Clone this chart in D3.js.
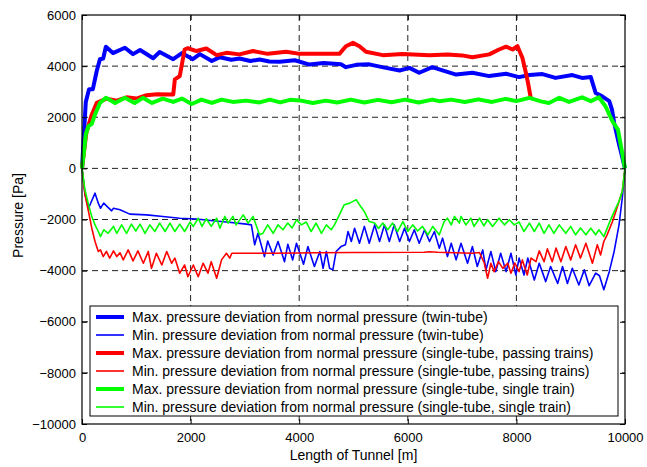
<!DOCTYPE html>
<html>
<head>
<meta charset="utf-8">
<script src="https://cdn.jsdelivr.net/npm/d3@7"></script>
<style>
  body { margin: 0; background: #fff; }
  text { font-family: Arial, "Liberation Sans", sans-serif; }
</style>
</head>
<body>
<div id="chart"></div>
<script>
// tick values
var xTicks = [0, 2000, 4000, 6000, 8000, 10000];
var yTicks = [-10000, -8000, -6000, -4000, -2000, 0, 2000, 4000, 6000];

// series: [length of tunnel (m), pressure (Pa)]
var maxTwin = [[0,0],[40,1500],[70,2600],[130,3100],[200,3100],[270,3800],[330,4270],[390,4300],[440,4760],[570,4510],[790,4720],[940,4470],[1070,4630],[1310,4310],[1430,4550],[1680,4270],[1840,4510],[2040,4270],[2170,4470],[2390,4200],[2540,4350],[2750,4250],[2900,4300],[3100,4200],[3270,4260],[3450,4180],[3640,4170],[3920,4230],[4190,4060],[4450,4120],[4770,4070],[4860,3960],[5050,4050],[5290,4070],[5550,3950],[5850,3830],[6030,3930],[6210,3740],[6450,3960],[6580,3870],[6890,3670],[7190,3740],[7500,3610],[7810,3700],[8050,3570],[8240,3650],[8480,3690],[8720,3540],[9030,3650],[9210,3540],[9370,3570],[9460,2950],[9580,2820],[9710,2630],[9760,2300],[9800,1780],[9890,940],[10000,0]];

var minTwin = [[0,0],[55,-1020],[120,-1560],[240,-970],[300,-1360],[340,-1560],[400,-1360],[545,-1660],[580,-1560],[700,-1620],[880,-1790],[1190,-1820],[1490,-1880],[1800,-1950],[2110,-1980],[2410,-2050],[2660,-2100],[3030,-2180],[3120,-2210],[3180,-2990],[3240,-2540],[3360,-3450],[3420,-2840],[3520,-3390],[3610,-2860],[3730,-3650],[3790,-2970],[3880,-3580],[3950,-2930],[4080,-3750],[4160,-3060],[4280,-3840],[4380,-3250],[4440,-3910],[4500,-3250],[4560,-3910],[4620,-3970],[4680,-3250],[4770,-3060],[4850,-2990],[4900,-2470],[4960,-2860],[5020,-2340],[5110,-2930],[5200,-2270],[5290,-2930],[5390,-2210],[5480,-2860],[5570,-2210],[5660,-2860],[5750,-2210],[5850,-2860],[5940,-2340],[6030,-2860],[6120,-2400],[6210,-2930],[6310,-2400],[6400,-2860],[6490,-2470],[6580,-3120],[6640,-2730],[6730,-3450],[6800,-2930],[6890,-3580],[6980,-2930],[7100,-3710],[7190,-3060],[7280,-3840],[7380,-3190],[7440,-3970],[7530,-3250],[7620,-4040],[7710,-3320],[7810,-4040],[7900,-3320],[7990,-4170],[8050,-3510],[8140,-4170],[8210,-3510],[8330,-4370],[8420,-3710],[8540,-4430],[8630,-3840],[8760,-4500],[8850,-3840],[8940,-4500],[9030,-3910],[9150,-4560],[9250,-3970],[9340,-4590],[9460,-4100],[9530,-4200],[9610,-4750],[9710,-4040],[9800,-3250],[9890,-2210],[9950,-1160],[10000,0]];

var maxPassing = [[0,0],[80,1400],[180,2100],[270,2560],[450,2730],[640,2650],[820,2780],[1000,2730],[1190,2860],[1380,2900],[1680,2890],[1710,3480],[1800,3610],[1890,4650],[1950,4700],[2110,4590],[2290,4690],[2480,4430],[2660,4520],[2900,4460],[3150,4590],[3420,4480],[3760,4560],[4010,4480],[4740,4480],[4860,4780],[4990,4910],[5110,4780],[5230,4560],[5540,4430],[5900,4470],[6400,4430],[6730,4450],[7000,4420],[7190,4350],[7500,4460],[7680,4650],[7810,4760],[7930,4650],[8020,4780],[8110,4330],[8180,3690],[8220,3280],[8270,2690]];

var minPassing = [[0,0],[55,-1030],[120,-1690],[180,-2340],[240,-2860],[300,-3250],[340,-3190],[390,-3450],[450,-3250],[510,-3510],[580,-3230],[640,-3450],[700,-3300],[760,-3580],[850,-3190],[940,-3620],[1030,-3230],[1130,-3710],[1220,-3250],[1280,-3910],[1370,-3320],[1470,-3780],[1560,-3250],[1650,-3710],[1710,-3510],[1800,-4100],[1890,-3780],[1950,-4240],[2050,-3780],[2140,-4240],[2230,-3710],[2320,-4100],[2380,-3650],[2480,-4300],[2570,-3580],[2660,-3320],[2720,-3510],[2760,-3320],[3460,-3320],[4000,-3310],[4300,-3300],[5000,-3290],[6300,-3280],[6400,-3260],[6550,-3280],[7190,-3320],[7320,-3290],[7410,-3710],[7470,-4300],[7530,-3710],[7590,-4040],[7670,-3650],[7750,-3910],[7840,-3710],[7900,-4100],[7970,-3700],[8050,-4040],[8110,-3580],[8200,-4170],[8270,-3510],[8360,-3650],[8420,-3230],[8510,-3650],[8570,-3150],[8660,-3650],[8730,-3120],[8820,-3650],[8910,-3060],[9000,-3580],[9090,-2990],[9180,-3510],[9280,-2930],[9400,-3710],[9490,-2990],[9550,-3390],[9610,-2860],[9670,-2600],[9770,-2080],[9860,-1490],[9950,-900],[10000,0]];

var maxSingle = [[0,0],[37,670],[70,1330],[120,1650],[180,1740],[240,2110],[330,2560],[440,2760],[610,2560],[790,2760],[970,2560],[1120,2760],[1290,2560],[1490,2730],[1680,2600],[1840,2730],[2020,2520],[2200,2690],[2390,2560],[2570,2690],[2780,2600],[3020,2650],[3270,2580],[3460,2690],[3650,2580],[3830,2680],[4010,2660],[4250,2560],[4490,2650],[4700,2580],[4950,2690],[5200,2580],[5450,2680],[5700,2590],[5950,2690],[6200,2580],[6450,2690],[6580,2630],[6800,2690],[7050,2600],[7300,2700],[7550,2600],[7800,2720],[8000,2630],[8240,2760],[8450,2620],[8600,2560],[8790,2760],[8970,2600],[9210,2780],[9370,2630],[9520,2780],[9640,2430],[9770,1840],[9870,1520],[9920,940],[10000,0]];

var minSingle = [[0,0],[55,-840],[120,-1420],[180,-1880],[240,-2210],[300,-2470],[340,-2670],[400,-2400],[480,-2540],[580,-2270],[640,-2540],[730,-2210],[820,-2540],[910,-2180],[990,-2450],[1070,-2180],[1160,-2540],[1250,-2210],[1340,-2470],[1430,-2140],[1530,-2470],[1620,-2140],[1710,-2470],[1800,-2180],[1890,-2470],[1990,-2100],[2050,-2270],[2140,-1950],[2210,-2270],[2290,-1970],[2380,-2270],[2480,-1950],[2540,-2340],[2630,-1880],[2690,-2140],[2780,-1880],[2840,-2210],[2970,-1820],[3060,-2140],[3150,-1880],[3270,-2600],[3330,-2540],[3420,-2210],[3520,-2540],[3610,-2210],[3700,-2400],[3790,-2140],[3870,-2330],[3950,-2010],[4040,-2210],[4130,-2100],[4220,-2470],[4310,-2140],[4410,-2540],[4500,-2210],[4590,-2400],[4650,-2210],[4740,-1820],[4830,-1420],[4930,-1360],[4990,-1290],[5050,-1230],[5110,-1420],[5200,-1690],[5290,-2080],[5390,-2140],[5460,-2350],[5540,-2140],[5630,-2400],[5720,-2140],[5810,-2470],[5910,-2080],[6000,-2470],[6090,-2210],[6180,-2450],[6270,-2270],[6370,-2600],[6460,-2270],[6580,-2600],[6670,-2080],[6730,-1950],[6800,-2210],[6860,-1880],[6950,-2140],[6980,-1880],[7070,-2210],[7160,-1950],[7220,-2270],[7320,-1950],[7400,-2250],[7470,-2010],[7560,-2270],[7680,-1950],[7780,-2210],[7870,-2010],[7960,-2210],[8050,-2100],[8140,-2470],[8240,-2140],[8330,-2470],[8420,-2140],[8510,-2540],[8600,-2210],[8690,-2540],[8790,-2210],[8910,-2540],[9000,-2270],[9090,-2600],[9180,-2330],[9280,-2600],[9370,-2340],[9460,-2600],[9520,-2400],[9610,-2670],[9710,-2140],[9800,-1690],[9890,-1290],[9950,-900],[10000,0]];

var seriesNames = [
  "Max. pressure deviation from normal pressure (twin-tube)",
  "Min. pressure deviation from normal pressure (twin-tube)",
  "Max. pressure deviation from normal pressure (single-tube, passing trains)",
  "Min. pressure deviation from normal pressure (single-tube, passing trains)",
  "Max. pressure deviation from normal pressure (single-tube, single train)",
  "Min. pressure deviation from normal pressure (single-tube, single train)"
];
var seriesData = [maxTwin, minTwin, maxPassing, minPassing, maxSingle, minSingle];
var seriesColors = ["#0000ff", "#0000ff", "#ff0000", "#ff0000", "#00ff00", "#00ff00"];
var seriesWidths = [4, 1.6, 4, 1.6, 4, 1.6];

var width = 647, height = 467;
var margin = {top: 15, right: 22, bottom: 43, left: 82};
var w = width - margin.left - margin.right;
var h = height - margin.top - margin.bottom;

var svg = d3.select("#chart").append("svg")
    .attr("width", width)
    .attr("height", height)
    .style("background", "#fff");

var g = svg.append("g")
    .attr("transform", "translate(" + margin.left + "," + margin.top + ")");

var x = d3.scaleLinear().domain([0, 10000]).range([0, w]);
var y = d3.scaleLinear().domain([-10000, 6000]).range([h, 0]);

// grid
var grid = g.append("g").attr("class", "grid");
grid.selectAll("line.gx")
    .data(xTicks.slice(1, -1))
    .enter().append("line")
    .attr("x1", function(d) { return x(d); })
    .attr("x2", function(d) { return x(d); })
    .attr("y1", 0).attr("y2", h);
grid.selectAll("line.gy")
    .data(yTicks.slice(1, -1))
    .enter().append("line")
    .attr("x1", 0).attr("x2", w)
    .attr("y1", function(d) { return y(d); })
    .attr("y2", function(d) { return y(d); });
grid.selectAll("line")
    .attr("stroke", "#222")
    .attr("stroke-width", 1)
    .attr("stroke-dasharray", "6,4");

// lines
var line = d3.line()
    .x(function(d) { return x(d[0]); })
    .y(function(d) { return y(d[1]); });

seriesData.forEach(function(data, i) {
    g.append("path")
        .datum(data)
        .attr("fill", "none")
        .attr("stroke", seriesColors[i])
        .attr("stroke-width", seriesWidths[i])
        .attr("stroke-linejoin", "round")
        .attr("d", line);
});

// axes, ticks pointing inward
var fmt = d3.format("d");
var axB = g.append("g").attr("transform", "translate(0," + h + ")")
    .call(d3.axisBottom(x).tickValues(xTicks).tickSize(-5).tickPadding(9).tickFormat(fmt));
var axL = g.append("g")
    .call(d3.axisLeft(y).tickValues(yTicks).tickSize(-5).tickPadding(6).tickFormat(fmt));
var axT = g.append("g")
    .call(d3.axisTop(x).tickValues(xTicks).tickSize(-5).tickFormat(""));
var axR = g.append("g").attr("transform", "translate(" + w + ",0)")
    .call(d3.axisRight(y).tickValues(yTicks).tickSize(-5).tickFormat(""));

[axB, axL, axT, axR].forEach(function(a) {
    a.select(".domain").remove();
    a.selectAll("line").attr("stroke", "#000");
    a.selectAll("text").attr("fill", "#000").style("font-size", "13px");
});

g.append("rect")
    .attr("x", 0).attr("y", 0)
    .attr("width", w).attr("height", h)
    .attr("fill", "none")
    .attr("stroke", "#000")
    .attr("stroke-width", 1.2);

// legend
var legend = g.append("g")
    .attr("transform", "translate(" + (90 - margin.left) + "," + (306 - margin.top) + ")");
legend.append("rect")
    .attr("width", 528).attr("height", 110)
    .attr("fill", "#fff")
    .attr("stroke", "#000")
    .attr("stroke-width", 1);

var items = legend.selectAll("g.item")
    .data(seriesNames)
    .enter().append("g")
    .attr("class", "item")
    .attr("transform", function(d, i) { return "translate(0," + (11 + i * 18) + ")"; });
items.append("line")
    .attr("x1", 6).attr("x2", 34)
    .attr("stroke", function(d, i) { return seriesColors[i]; })
    .attr("stroke-width", function(d, i) { return seriesWidths[i]; });
items.append("text")
    .attr("x", 42)
    .attr("dy", "0.35em")
    .style("font-size", "14px")
    .text(function(d) { return d; });

// axis labels
svg.append("text")
    .attr("x", margin.left + w / 2)
    .attr("y", 460)
    .attr("text-anchor", "middle")
    .style("font-size", "14px")
    .text("Length of Tunnel [m]");

svg.append("text")
    .attr("transform", "translate(23," + (margin.top + h / 2 - 4) + ") rotate(-90)")
    .attr("text-anchor", "middle")
    .style("font-size", "14px")
    .text("Pressure [Pa]");
</script>
</body>
</html>
